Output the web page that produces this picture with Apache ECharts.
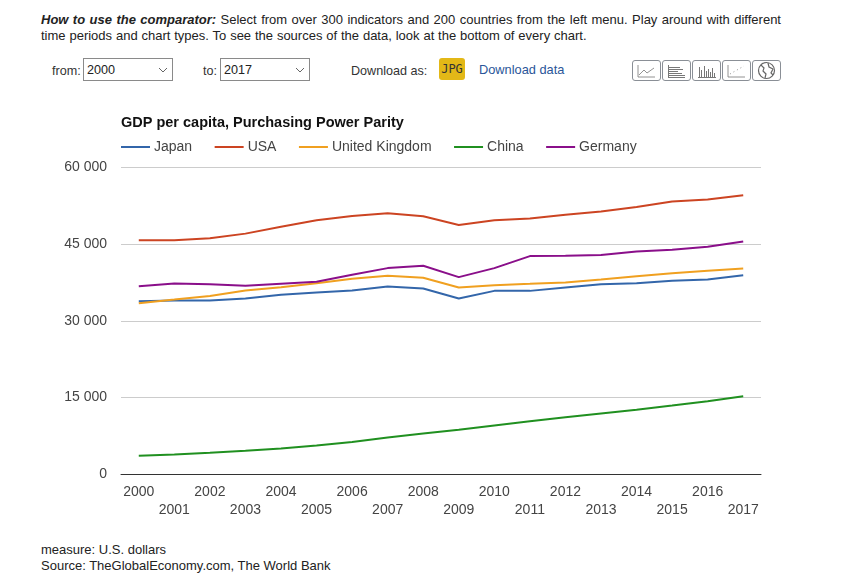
<!DOCTYPE html>
<html>
<head>
<meta charset="utf-8">
<title>GDP per capita, Purchasing Power Parity</title>
<script src="https://cdn.jsdelivr.net/npm/echarts@6/dist/echarts.min.js"></script>
<style>
html, body { margin: 0; padding: 0; background: #fff; font-family: "Liberation Sans", Arial, sans-serif; color: #222; }
body { position: relative; width: 843px; height: 588px; overflow: hidden; }
.abs { position: absolute; }
#intro { left: 41px; top: 12px; width: 740px; font-size: 13px; line-height: 16px; text-align: justify; color: #222; word-spacing: .25px; }
#intro .first { display: block; text-align-last: justify; white-space: nowrap; }
.lbl { font-size: 12.6px; line-height: 16px; color: #333; }
select { position: absolute; box-sizing: border-box; height: 23px; border: 1px solid #8a8a8a; font: 12.6px "Liberation Sans", Arial, sans-serif; color: #222; padding-left: 3px; border-radius: 0; appearance: none; -webkit-appearance: none;
    background: #fff url("data:image/svg+xml,%3Csvg xmlns='http://www.w3.org/2000/svg' width='10' height='6'%3E%3Cpath d='M1 1L5 5L9 1' fill='none' stroke='%23666'/%3E%3C/svg%3E") no-repeat right 4px center; }
#jpg { left: 439px; top: 58px; width: 26px; height: 22px; background: #e3b817; border-radius: 3px; font: 12px "DejaVu Sans Mono", monospace; line-height: 22px; text-align: center; color: #333; }
.tool { position: absolute; top: 60px; width: 29px; height: 21px; box-sizing: border-box; border: 1px solid #8a8f96; border-radius: 3px; background: #fff; }
.tool svg { display: block; }
#main { left: 0; top: 100px; width: 843px; height: 440px; }
#foot { left: 41px; top: 542px; font-size: 13px; line-height: 16px; color: #222; }
</style>
</head>
<body>

<div id="intro" class="abs"><span class="first"><b><i>How to use the comparator:</i></b> Select from over 300 indicators and 200 countries from the left menu. Play around with different</span>time periods and chart types. To see the sources of the data, look at the bottom of every chart.</div>

<div class="abs lbl" style="left:52px;top:63px">from:</div>
<select style="left:83px;top:58px;width:90px"><option>2000</option></select>
<div class="abs lbl" style="left:203px;top:63px">to:</div>
<select style="left:220px;top:58px;width:90px"><option>2017</option></select>
<div class="abs lbl" style="left:351px;top:63px">Download as:</div>
<div id="jpg" class="abs">JPG</div>
<div class="abs lbl" style="left:479px;top:62px;color:#2a5699;font-size:12.8px">Download data</div>

<div class="tool" style="left:632px"><svg width="27" height="19" fill="none" stroke="#777" stroke-width=".8"><path d="M5 4V16H22"/><path d="M6 14L11 9L14 12L21 7"/></svg></div>
<div class="tool" style="left:662px"><svg width="27" height="19" fill="none" stroke="#777" shape-rendering="crispEdges"><path d="M5.5 4V16H22M6 6.5H17M6 8.5H20M6 10.5H15M6 12.5H19M6 14.5H22"/></svg></div>
<div class="tool" style="left:692px"><svg width="27" height="19" fill="none" stroke="#777" shape-rendering="crispEdges"><path d="M5 16.5H23M6.5 6V16M8.5 9V16M11.5 5V16M13.5 10V16M15.5 8V16M17.5 11V16M19.5 7V16M21.5 12V16"/></svg></div>
<div class="tool" style="left:722px"><svg width="27" height="19" fill="none" stroke="#777" stroke-width=".8"><path d="M5 4V16H22"/><path stroke-dasharray="1 3" d="M7 13L21 5"/></svg></div>
<div class="tool" style="left:752px"><svg width="27" height="19" fill="none" stroke="#666" stroke-width="1.2"><circle cx="13.5" cy="9.5" r="8"/><path d="M8 4L11 7L10 10L13 13L12 17M15 2L16 6L20 8L18 12L20 14"/></svg></div>

<div id="main" class="abs"></div>

<div id="foot" class="abs">measure: U.S. dollars<br>Source: TheGlobalEconomy.com, The World Bank</div>

<script type="text/javascript">
var years = ['2000','2001','2002','2003','2004','2005','2006','2007','2008','2009','2010','2011','2012','2013','2014','2015','2016','2017'];
var tickValues = [0, 15000, 30000, 45000, 60000];

var japan = [33810,33940,33940,34330,35050,35500,35900,36680,36290,34330,35830,35830,36480,37140,37340,37800,38050,38900];
var usa = [45700,45700,46080,47000,48360,49600,50450,50970,50380,48690,49600,49930,50700,51300,52200,53260,53650,54490];
var uk = [33420,34130,34850,35900,36550,37340,38180,38770,38380,36480,36950,37200,37460,38050,38700,39290,39750,40200];
var china = [3660,3920,4240,4640,5090,5680,6330,7240,8000,8720,9550,10380,11150,11900,12650,13450,14300,15270];
var germany = [36750,37260,37140,36810,37200,37590,38960,40270,40730,38510,40270,42620,42680,42820,43530,43860,44450,45480];

var seriesNames = ['Japan','USA','United Kingdom','China','Germany'];
var seriesColors = ['#3366aa','#cc4422','#f0a020','#209020','#8a0f8a'];
var seriesValues = [japan, usa, uk, china, germany];

var myChart = echarts.init(document.getElementById('main'));

var series = [];
for (var i = 0; i < seriesNames.length; i++) {
    series.push({
        name: seriesNames[i],
        type: 'line',
        data: seriesValues[i],
        symbol: 'none',
        smooth: false,
        animation: false,
        lineStyle: { width: 2, color: seriesColors[i] },
        itemStyle: { color: seriesColors[i] }
    });
}

var option = {
    animation: false,
    color: seriesColors,
    textStyle: { fontFamily: '"Liberation Sans", Arial, sans-serif' },
    title: {
        text: 'GDP per capita, Purchasing Power Parity',
        left: 121,
        top: 15,
        padding: 0,
        textStyle: { fontSize: 14.5, fontWeight: 'bold', color: '#111' }
    },
    legend: {
        left: 121,
        top: 40,
        padding: 0,
        icon: 'rect',
        itemWidth: 29,
        itemHeight: 2,
        itemGap: 22.5,
        textStyle: { fontSize: 14, color: '#444', padding: [0, 0, 0, -1] },
        data: seriesNames
    },
    grid: { left: 121, top: 67, width: 640, height: 307.5 },
    xAxis: {
        type: 'category',
        data: years,
        boundaryGap: true,
        axisTick: { show: false },
        axisLine: { lineStyle: { color: '#333', width: 1 } },
        axisLabel: {
            interval: 0,
            fontSize: 14,
            color: '#444',
            lineHeight: 18,
            margin: 9,
            formatter: function (value, index) {
                return index % 2 ? '\n' + value : value;
            }
        }
    },
    yAxis: {
        type: 'value',
        min: tickValues[0],
        max: tickValues[tickValues.length - 1],
        interval: 15000,
        axisLine: { show: false },
        axisTick: { show: false },
        splitLine: { lineStyle: { color: '#ccc', width: 1 } },
        axisLabel: {
            fontSize: 14,
            color: '#444',
            margin: 14,
            formatter: function (v) {
                return String(v).replace(/\B(?=(\d{3})+$)/g, ' ');
            }
        }
    },
    series: series
};

myChart.setOption(option);
</script>
</body>
</html>
